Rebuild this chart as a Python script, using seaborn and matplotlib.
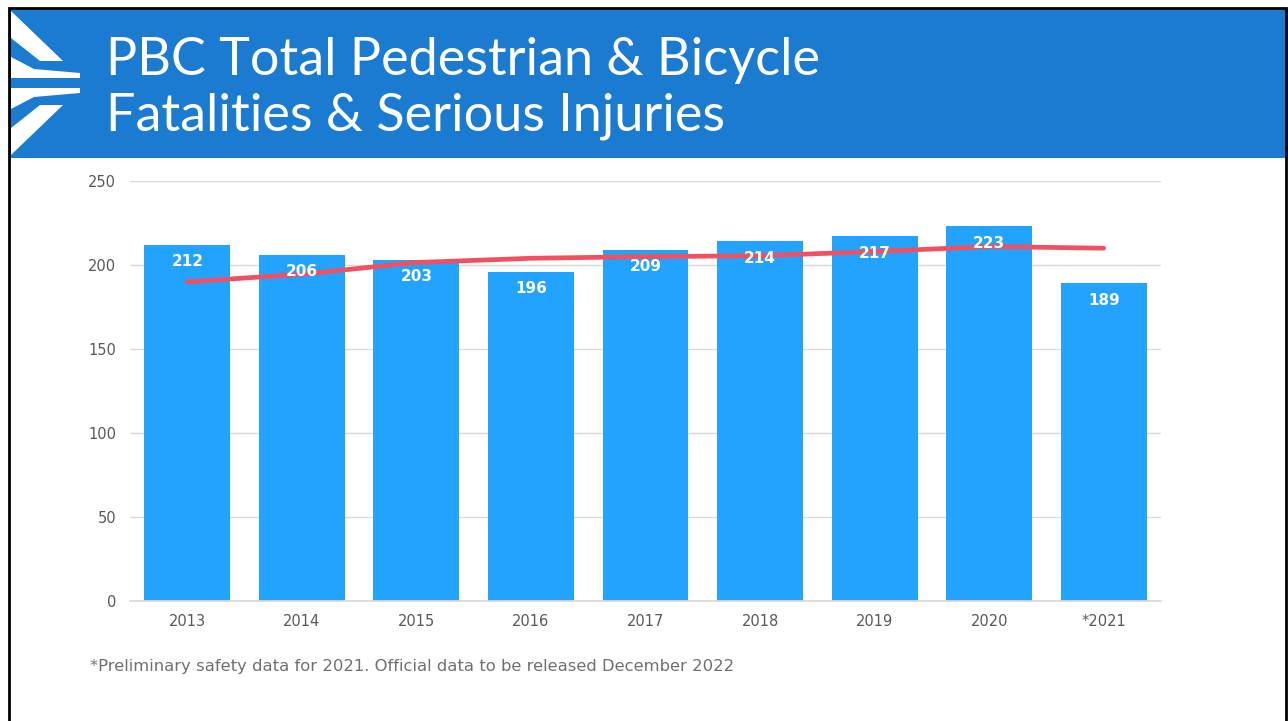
import numpy as np
import pandas as pd
import seaborn as sns
import matplotlib.pyplot as plt
from matplotlib.patches import Rectangle, Polygon

# data
years = ['2013', '2014', '2015', '2016', '2017', '2018', '2019', '2020', '*2021']
totals = [212, 206, 203, 196, 209, 214, 217, 223, 189]
trend = [190, 194.5, 201.5, 204, 205, 205.5, 208, 211, 210]
y_ticks = [0, 50, 100, 150, 200, 250]

title_lines = ['PBC Total Pedestrian & Bicycle', 'Fatalities & Serious Injuries']
footnote = '*Preliminary safety data for 2021. Official data to be released December 2022'

df = pd.DataFrame({'Year': years, 'Total': totals, 'Trend': trend})

sns.set_theme(style='white')
plt.rcParams['font.family'] = ['DejaVu Sans']

W, H = 1288, 721
fig = plt.figure(figsize=(W / 100, H / 100), dpi=100)

# header band and outer frame (pixel coords -> figure fraction)
def fx(x):
    return x / W

def fy(y):
    return 1 - y / H

fig.patches.append(Rectangle((fx(10), fy(158)), fx(1278), 150 / H, transform=fig.transFigure,
                             facecolor='#1A7BD0', edgecolor='none', zorder=0))
fig.patches.append(Rectangle((fx(9), fy(730)), fx(1277), 722 / H, transform=fig.transFigure,
                             facecolor='none', edgecolor='black', linewidth=2, zorder=5))

# logo chevrons
top_shapes = [
    [(11, 11), (63, 61), (40, 61), (11, 38)],
    [(11, 57), (34, 69), (80, 73), (80, 78), (11, 78)],
]
for shp in top_shapes:
    for pts in (shp, [(x, 166 - y) for x, y in shp]):
        fig.patches.append(Polygon([(fx(x), fy(y)) for x, y in pts], closed=True,
                                   transform=fig.transFigure, facecolor='white',
                                   edgecolor='none', zorder=1))

for line, base in zip(title_lines, [75, 131]):
    fig.text(fx(106), fy(base), line, color='white', fontsize=37.5, family=['Lato', 'DejaVu Sans'],
             va='baseline', ha='left')

# chart area
ax = fig.add_axes([fx(130), fy(601), fx(1161 - 130), (601 - 181) / H])
sns.barplot(data=df, x='Year', y='Total', color='#22A3FF', saturation=1, width=0.75,
            edgecolor='none', ax=ax, zorder=2)
sns.lineplot(data=df, x='Year', y='Trend', color='#F0505F', linewidth=3.4, ax=ax, zorder=3,
             solid_capstyle='round')

# value labels inside the bars
for i, v in enumerate(totals):
    ax.annotate(str(v), (i, v), xytext=(0, -12), textcoords='offset points', ha='center',
                va='center', color='white', fontsize=11, fontweight='bold',
                family=['DejaVu Sans'], zorder=4)

ax.set_xlim(-0.5, len(years) - 0.5)
ax.set_ylim(0, 250)
ax.set_yticks(y_ticks)
ax.yaxis.grid(True, color='#D9D9D9', linewidth=1)
ax.set_axisbelow(True)
for s in ['top', 'right', 'left']:
    ax.spines[s].set_visible(False)
ax.spines['bottom'].set_color('#D9D9D9')
ax.tick_params(axis='both', length=0, labelsize=10.5, labelcolor='#595959')
ax.tick_params(axis='y', pad=10)
ax.tick_params(axis='x', pad=9)
for lab in ax.get_xticklabels() + ax.get_yticklabels():
    lab.set_family(['DejaVu Sans'])
ax.set_xlabel('')
ax.set_ylabel('')

fig.text(fx(90), fy(667), footnote, color='#707070', fontsize=11.8, family=['DejaVu Sans'],
         ha='left', va='center')

fig.savefig('out.png', dpi=100)
